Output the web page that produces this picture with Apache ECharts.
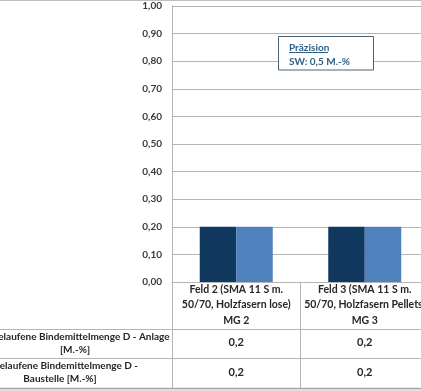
<!DOCTYPE html>
<html><head><meta charset="utf-8">
<script src="https://cdn.jsdelivr.net/npm/echarts@6/dist/echarts.min.js"></script>
<style>html,body{margin:0;padding:0;background:#fff}#c{width:421px;height:391px}</style>
</head><body><div id="c"></div>
<script>
const categories = ["Feld 2 (SMA 11 S m.\n50/70, Holzfasern lose)\nMG 2", "Feld 3 (SMA 11 S m.\n50/70, Holzfasern Pellets)\nMG 3"];
const seriesNames = ["Abgelaufene Bindemittelmenge D - Anlage [M.-%]", "Abgelaufene Bindemittelmenge D - Baustelle [M.-%]"];
const anlage = [0.2, 0.2];
const baustelle = [0.2, 0.2];
const rowLabels = ["Abgelaufene Bindemittelmenge D - Anlage\n[M.-%]", "Abgelaufene Bindemittelmenge D -\nBaustelle [M.-%]"];
const yTicks = {min: 0, max: 1, interval: 0.1};
const note = ["Präzision", "SW: 0,5 M.-%"];

const FONT = 'Lato, "Open Sans", sans-serif';
const TXT = '#262626';
const fmt1 = v => String(v).replace('.', ',');
const grid = '#b5b5b5';
const chart = echarts.init(document.getElementById('c'));
chart.setOption({
  animation: false,
  grid: {left: 172, top: 6, width: 257, height: 276, containLabel: false, outerBoundsMode: 'none'},
  xAxis: [
    {type: 'category', data: categories,
     axisLine: {lineStyle: {color: grid}},
     axisTick: {show: true, length: 106, lineStyle: {color: grid}},
     axisLabel: {interval: 0, margin: -0.5, lineHeight: 15.5, fontFamily: FONT, fontWeight: 'bold', fontSize: 10.5, color: TXT}},
    {type: 'category', data: categories, position: 'bottom', offset: 47,
     axisLine: {show: false}, axisTick: {show: false},
     axisLabel: {interval: 0, margin: 8, fontFamily: FONT, fontWeight: 'bold', fontSize: 11, color: TXT,
       formatter: (v, i) => fmt1(anlage[i])}},
    {type: 'category', data: categories, position: 'bottom', offset: 76.5,
     axisLine: {show: false}, axisTick: {show: false},
     axisLabel: {interval: 0, margin: 8, fontFamily: FONT, fontWeight: 'bold', fontSize: 11, color: TXT,
       formatter: (v, i) => fmt1(baustelle[i])}}
  ],
  yAxis: {type: 'value', min: yTicks.min, max: yTicks.max, interval: yTicks.interval,
    axisLine: {show: true, lineStyle: {color: grid}}, axisTick: {show: false},
    splitLine: {lineStyle: {color: grid}},
    axisLabel: {margin: 10, fontFamily: FONT, fontWeight: 'bold', fontSize: 10, color: '#3a3a3a',
      formatter: v => v.toFixed(2).replace('.', ',')}},
  series: [
    {name: seriesNames[0], type: 'bar', data: anlage, barWidth: 36.5, barGap: '0%', itemStyle: {color: '#11395f'}},
    {name: seriesNames[1], type: 'bar', data: baustelle, barWidth: 36.5, barGap: '0%', itemStyle: {color: '#4f81bd'}}
  ],
  graphic: [
    {type: 'line', z: 100, shape: {x1: 0, y1: 0.5, x2: 421, y2: 0.5}, style: {stroke: '#bfbfbf', lineWidth: 1}},
    {type: 'line', z: 100, shape: {x1: 0, y1: 329.5, x2: 421, y2: 329.5}, style: {stroke: grid, lineWidth: 1}},
    {type: 'line', z: 100, shape: {x1: 0, y1: 358.5, x2: 421, y2: 358.5}, style: {stroke: grid, lineWidth: 1}},
    {type: 'line', z: 100, shape: {x1: 0, y1: 388.5, x2: 421, y2: 388.5}, style: {stroke: '#a6a6a6', lineWidth: 1.5}},
    {type: 'line', z: 100, shape: {x1: 0, y1: 390, x2: 421, y2: 390}, style: {stroke: '#d9d9d9', lineWidth: 1.5}},
    {type: 'text', z: 100, style: {text: rowLabels[0], x: 75, y: 343.5, textAlign: 'center', textVerticalAlign: 'middle', lineHeight: 13, font: 'bold 10px ' + FONT, fill: TXT}},
    {type: 'text', z: 100, style: {text: rowLabels[1], x: 60, y: 372.5, textAlign: 'center', textVerticalAlign: 'middle', lineHeight: 13, font: 'bold 10px ' + FONT, fill: TXT}},
    {type: 'rect', z: 100, shape: {x: 278.5, y: 36.5, width: 95, height: 33.5}, style: {fill: '#fff', stroke: '#4d6373', lineWidth: 1}},
    {type: 'text', z: 101, style: {text: note[0], x: 289, y: 48, textVerticalAlign: 'middle', font: 'bold 10px ' + FONT, fill: '#2f5f82'}},
    {type: 'line', z: 101, shape: {x1: 289, y1: 52.5, x2: 328, y2: 52.5}, style: {stroke: '#2f5f82', lineWidth: 1}},
    {type: 'text', z: 101, style: {text: note[1], x: 289, y: 62, textVerticalAlign: 'middle', font: 'bold 10px ' + FONT, fill: '#2f5f82'}}
  ]
});
</script></body></html>
